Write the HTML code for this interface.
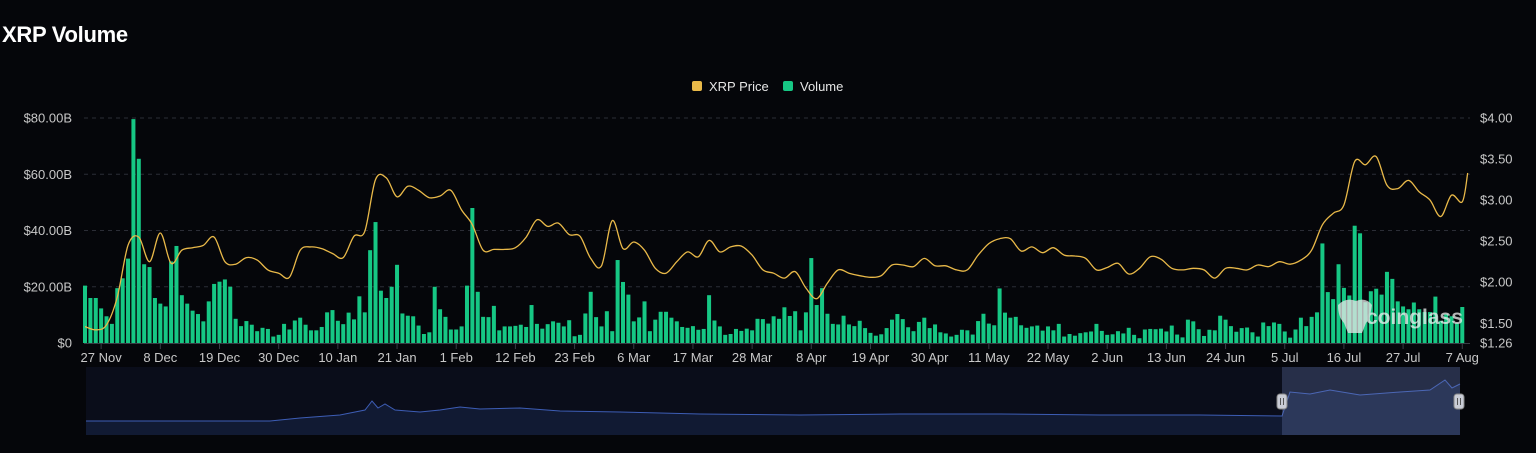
<!DOCTYPE html>
<html><head><meta charset="utf-8"><style>
html,body{margin:0;padding:0;background:#05060a;width:1536px;height:453px;overflow:hidden;font-family:"Liberation Sans",sans-serif;}
#title{position:absolute;left:2px;top:22px;color:#fff;font-weight:bold;font-size:22px;letter-spacing:-0.3px}
svg{position:absolute;left:0;top:0}
text{font-family:"Liberation Sans",sans-serif}
</style></head><body>
<div id="title">XRP Volume</div>
<svg id="chart" width="1536" height="453"></svg>
<script>
const volumes=[20.4,16,16,12.3,9.5,6.8,19.5,23,30,79.6,65.5,28,27,16,14,13,29,34.5,17,14,11.5,10.3,7.7,14.8,21,21.8,22.6,20,8.6,6,7.8,6.5,4.2,5.4,5,2.3,2.9,6.8,4.8,8,9,6.5,4.5,4.5,5.7,10.9,11.7,7.9,6.7,10.8,8.4,16.6,10.9,33,43,18.6,16,20,27.8,10.5,9.7,9.5,6.2,3.2,3.8,20,12,
9.3,4.8,4.8,5.9,20.4,48,18.2,9.3,9.2,13.2,4.5,5.9,5.9,6.1,6.5,5.7,13.5,6.8,5.1,6.7,7.7,7.2,5.9,8.1,2.4,2.9,10.5,18.2,9.2,5.9,11.3,4.2,29.5,21.7,17.2,7.7,9.1,14.8,4.2,8.3,11.1,11.1,9,7.7,5.7,5.4,6,4.7,5,17,8,5.9,2.9,3.2,5,4.3,5.1,4.5,8.6,8.5,6.9,9.5,8.6,12.7,9.6,
11.3,4.5,10.9,30.2,13.5,19.5,10.4,6.8,6.6,9.7,6.6,6,7.9,5.3,3.6,2.6,3.1,5.3,8.3,10.3,8.5,5.6,4.2,7.5,9,5.3,6.6,3.8,3.4,2.3,2.9,4.7,4.5,3,7.8,10.4,6.9,6.3,19.4,10.8,9,9.3,6.3,5.4,5.9,6.2,4.4,5.9,4.5,6.8,2.3,3.2,2.6,3.5,3.8,4.1,6.8,4.3,2.9,3.1,4.2,3.4,5.4,2.9,1.7,
4.8,5,4.9,5.1,4.1,6.2,3,2,8.3,7.7,4.9,2.5,4.7,4.5,9.7,8.3,6,4,5.3,5.5,3.8,2.3,7.3,6,7.3,6.8,4.1,1.9,4.8,9,6,9.3,10.9,35.4,18.1,15.6,28,19.6,16.9,41.7,39,14.5,18.4,19.3,17.2,25.3,22.8,14.8,13,12,14.4,12,11,11,16.5,7.9,10.2,9.5,7,12.8];
const priceIdx=[0,2,4,6,8,10,12,14,16,18,20,22,24,26,28,30,32,34,36,38,40,42,44,46,48,50,52,54,56,58,60,62,64,66,68,70,72,74,76,78,80,82,84,86,88,90,92,94,96,98,100,102,104,106,108,110,112,114,116,118,120,122,124,126,128,130,132,134,136,138,140,142,144,146,148,150,152,154,156,158,160,162,164,166,168,170,172,174,176,178,180,182,184,186,188,190,192,194,196,198,200,202,204,206,208,210,212,214,216,218,220,222,224,226,228,230,232,234,236,238,240,242,244,246,248,250,252,254,256,257];
const prices=[1.46,1.42,1.48,1.82,2.45,2.55,2.25,2.60,2.23,2.39,2.42,2.45,2.55,2.25,2.22,2.30,2.27,2.15,2.11,2.06,2.39,2.43,2.41,2.35,2.30,2.56,2.62,3.25,3.27,3.04,3.17,3.12,3.03,3.05,3.12,2.88,2.70,2.39,2.40,2.40,2.42,2.55,2.76,2.68,2.72,2.58,2.56,2.29,2.20,2.75,2.41,2.49,2.39,2.17,2.11,2.25,2.37,2.31,2.51,2.37,2.43,2.44,2.33,2.15,2.11,2.05,2.13,1.93,1.80,1.99,2.15,2.11,2.08,2.06,2.08,2.21,2.21,2.19,2.29,2.20,2.20,2.15,2.15,2.33,2.47,2.53,2.53,2.38,2.43,2.36,2.42,2.33,2.32,2.29,2.15,2.18,2.23,2.10,2.17,2.31,2.28,2.17,2.15,2.17,2.15,2.05,2.17,2.17,2.15,2.21,2.19,2.25,2.22,2.27,2.39,2.70,2.84,2.94,3.47,3.43,3.53,3.18,3.14,3.24,3.10,3.00,2.80,3.06,2.98,3.33];
const leftTicks=[0,20,40,60,80];
const leftLabels=["$0","$20.00B","$40.00B","$60.00B","$80.00B"];
const rightTicks=[1.26,1.5,2,2.5,3,3.5,4];
const rightLabels=["$1.26","$1.50","$2.00","$2.50","$3.00","$3.50","$4.00"];
const xTickIdx=[3,14,25,36,47,58,69,80,91,102,113,124,135,146,157,168,179,190,201,212,223,234,245,256];
const xTickLabels=["27 Nov","8 Dec","19 Dec","30 Dec","10 Jan","21 Jan","1 Feb","12 Feb","23 Feb","6 Mar","17 Mar","28 Mar","8 Apr","19 Apr","30 Apr","11 May","22 May","2 Jun","13 Jun","24 Jun","5 Jul","16 Jul","27 Jul","7 Aug"];

const NS="http://www.w3.org/2000/svg";
const svg=document.getElementById('chart');
const X0=85,X1=85+256*5.38;
const xS=i=>X0+i*(X1-X0)/256;
const yL=v=>343-v*(343-118)/80;
const yR=p=>343-(p-1.26)*(343-118)/(4-1.26);
function mk(t,a,parent){const e=document.createElementNS(NS,t);for(const k in a)e.setAttribute(k,a[k]);(parent||svg).appendChild(e);return e;}

// legend
const lg=mk('g',{});


const l1=mk('g',{},lg);


mk('rect',{x:692,y:81,width:10,height:10,rx:2,fill:'#e9b949'},l1);
const t1=mk('text',{x:709,y:91,fill:'#e6e6e6','font-size':13},l1);t1.textContent='XRP Price';
const l2=mk('g',{},lg);


mk('rect',{x:783,y:81,width:10,height:10,rx:2,fill:'#16c784'},l2);
const t2=mk('text',{x:800,y:91,fill:'#e6e6e6','font-size':13},l2);t2.textContent='Volume';

// grid + left axis
leftTicks.forEach((v,i)=>{
  if(v>0){const g=mk('line',{x1:84,x2:1470,y1:yL(v),y2:yL(v),stroke:'#2b2d36','stroke-dasharray':'4,4','stroke-width':1});
  
  }
  const t=mk('text',{x:72,y:yL(v)+4.5,fill:'#c8c8c8','font-size':13,'text-anchor':'end'});
  t.textContent=leftLabels[i];
  
  
});
rightTicks.forEach((v,i)=>{
  const t=mk('text',{x:1480,y:yR(v)+4.5,fill:'#c8c8c8','font-size':13});
  t.textContent=rightLabels[i];
  
  
});
mk('line',{x1:84,x2:1470,y1:343.5,y2:343.5,stroke:'#3a3c45'});
xTickIdx.forEach((ix,i)=>{
  mk('line',{x1:xS(ix),x2:xS(ix),y1:344,y2:349,stroke:'#3a3c45'});
  const t=mk('text',{x:xS(ix),y:362,fill:'#c8c8c8','font-size':13,'text-anchor':'middle'});
  t.textContent=xTickLabels[i];
  
  
});

// bars
const bg=mk('g',{});


volumes.forEach((v,i)=>{
  const b=mk('rect',{x:xS(i)-2,y:yL(v),width:4,height:343-yL(v),fill:'#16c784'},bg);
  
  
});

// watermark
const wm=mk('g',{opacity:0.75});


mk('path',{d:'M1338 305 q8 -8 18 -4 q10 -4 16 4 q-2 14 -6 18 l-4 10 h-14 l-4 -10 q-6 -6 -6 -18z',fill:'#e8e8e8'},wm);
const wt=mk('text',{x:1366,y:324,fill:'#f0f0f0','font-size':21,'font-weight':'bold'},wm);wt.textContent='coinglass';

// price line
const pts=priceIdx.map((ix,i)=>[xS(ix),yR(prices[i])]);
let d='M'+pts[0][0].toFixed(1)+' '+pts[0][1].toFixed(1);
for(let i=0;i<pts.length-1;i++){
  const p0=pts[Math.max(0,i-1)],p1=pts[i],p2=pts[i+1],p3=pts[Math.min(pts.length-1,i+2)];
  const c1=[p1[0]+(p2[0]-p0[0])/6,p1[1]+(p2[1]-p0[1])/6],c2=[p2[0]-(p3[0]-p1[0])/6,p2[1]-(p3[1]-p1[1])/6];
  d+=` C${c1[0].toFixed(1)} ${c1[1].toFixed(1)},${c2[0].toFixed(1)} ${c2[1].toFixed(1)},${p2[0].toFixed(1)} ${p2[1].toFixed(1)}`;
}
const pl=mk('path',{d:d,fill:'none',stroke:'#e9b949','stroke-width':1.3});



// navigator
const nav=mk('g',{});


mk('rect',{x:86,y:367,width:1374,height:68,fill:'#0a0d1a'},nav);
const navD='M86 421 L270 421 L300 418 L340 415 L365 410 L372 401 L378 408 L385 404 L395 410 L420 412 L440 410 L460 407 L480 409 L520 408 L560 411 L620 412 L700 414 L800 415 L900 414 L1000 414 L1100 415 L1200 415 L1282 416 L1290 392 L1310 394 L1330 390 L1360 395 L1400 392 L1430 390 L1445 380 L1452 388 L1460 384';
mk('path',{d:navD+' L1460 435 L86 435 Z',fill:'#111a33'},nav);
mk('path',{d:navD,fill:'none',stroke:'#3d5db5','stroke-width':1},nav);
const sel=mk('rect',{x:1282,y:367,width:178,height:68,fill:'#6c7fb5','fill-opacity':0.3},nav);


[1282,1459].forEach(hx=>{
  const h=mk('rect',{x:hx-5,y:394,width:10,height:15,rx:3,fill:'#c9ccd6',stroke:'#888'},nav);
  
  
  mk('line',{x1:hx-1.5,x2:hx-1.5,y1:398,y2:405,stroke:'#555'},nav);
  mk('line',{x1:hx+1.5,x2:hx+1.5,y1:398,y2:405,stroke:'#555'},nav);
});
</script>
</body></html>
